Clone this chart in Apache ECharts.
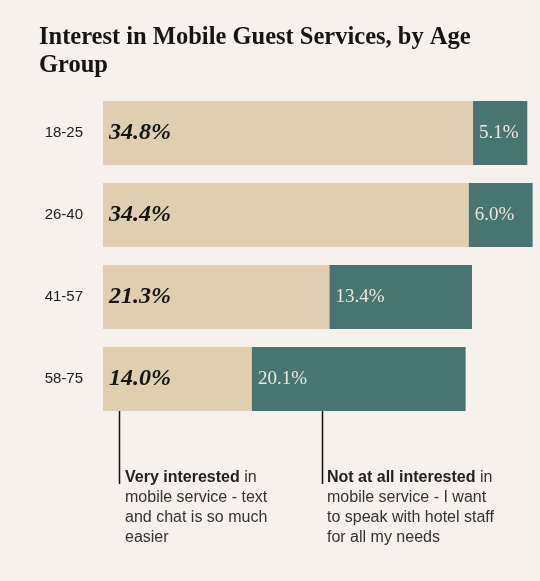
<!DOCTYPE html>
<html><head><meta charset="utf-8">
<script src="https://cdn.jsdelivr.net/npm/echarts@6/dist/echarts.min.js"></script>
<style>html,body{margin:0;padding:0;background:#f6f1ed;}#c{width:540px;height:581px;}</style>
</head><body><div id="c"></div>
<script>
const categories = ['18-25', '26-40', '41-57', '58-75'];
const veryInterested = [34.8, 34.4, 21.3, 14.0];
const notInterested = [5.1, 6.0, 13.4, 20.1];

const chart = echarts.init(document.getElementById('c'));
chart.setOption({
  backgroundColor: '#f6f1ed',
  animation: false,
  title: {
    text: 'Interest in Mobile Guest Services, by Age\nGroup',
    left: 34, top: 19,
    textStyle: { fontFamily: 'Liberation Serif', fontWeight: 'bold', fontSize: 24.5, lineHeight: 28, color: '#151515' }
  },
  grid: { left: 103, right: 1, top: 92, bottom: 161 },
  xAxis: { type: 'value', min: 0, max: 41, show: false },
  yAxis: {
    type: 'category', data: categories, inverse: true,
    axisLine: { show: false }, axisTick: { show: false },
    axisLabel: { margin: 20, fontFamily: 'Liberation Sans', fontSize: 15, color: '#222' }
  },
  series: [
    {
      type: 'bar', stack: 'a', data: veryInterested, barWidth: 64,
      itemStyle: { color: '#dfceb0' },
      label: { show: true, position: 'insideLeft', offset: [1, 0], formatter: p => p.value.toFixed(1) + '%',
        fontFamily: 'Liberation Serif', fontStyle: 'italic', fontWeight: 'bold', fontSize: 24, color: '#151515' }
    },
    {
      type: 'bar', stack: 'a', data: notInterested, barWidth: 64,
      itemStyle: { color: '#497570' },
      label: { show: true, position: 'insideLeft', offset: [1, 0], formatter: p => p.value.toFixed(1) + '%',
        fontFamily: 'Liberation Serif', fontSize: 19, color: '#ece6dc' }
    }
  ],
  graphic: [
    { type: 'line', shape: { x1: 119.5, y1: 396, x2: 119.5, y2: 484 }, style: { stroke: '#111', lineWidth: 1.5 } },
    { type: 'line', shape: { x1: 322.5, y1: 396, x2: 322.5, y2: 484 }, style: { stroke: '#111', lineWidth: 1.5 } },
    { type: 'text', left: 125, top: 468, style: {
      text: '{b|Very interested} in\nmobile service - text\nand chat is so much\neasier',
      fontFamily: 'Liberation Sans', fontSize: 16, lineHeight: 20, fill: '#333',
      rich: { b: { fontFamily: 'Liberation Sans', fontWeight: 'bold', fontSize: 16, lineHeight: 20, fill: '#222' } } } },
    { type: 'text', left: 327, top: 468, style: {
      text: '{b|Not at all interested} in\nmobile service - I want\nto speak with hotel staff\nfor all my needs',
      fontFamily: 'Liberation Sans', fontSize: 16, lineHeight: 20, fill: '#333',
      rich: { b: { fontFamily: 'Liberation Sans', fontWeight: 'bold', fontSize: 16, lineHeight: 20, fill: '#222' } } } }
  ]
});
</script></body></html>
